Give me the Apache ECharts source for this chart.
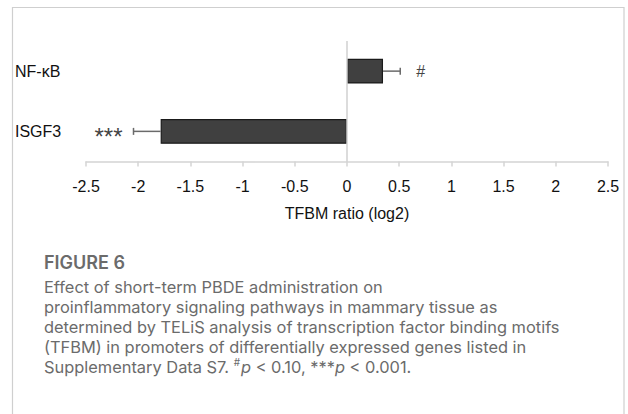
<!DOCTYPE html>
<html>
<head>
<meta charset="utf-8">
<script src="https://cdn.jsdelivr.net/npm/echarts@6/dist/echarts.min.js"></script>
<style>
html,body{margin:0;padding:0;background:#fff;}
#chart{width:628px;height:414px;}
</style>
</head>
<body>
<div id="chart"></div>
<script>
// ---- data ----
var categories = ["NF-\u03baB", "ISGF3"];
var ratioValues = [0.345, -1.785];
var errorValues = [0.165, 0.26];
var significance = ["#", "***"];
var xTicks = { min: -2.5, max: 2.5, interval: 0.5 };
var axisTitle = "TFBM ratio (log2)";
var figureLabel = "FIGURE 6";
var captionLines = [
  "Effect of short-term PBDE administration on",
  "proinflammatory signaling pathways in mammary tissue as",
  "determined by TELiS analysis of transcription factor binding motifs",
  "(TFBM) in promoters of differentially expressed genes listed in",
  "Supplementary Data S7. {sup|#}{it|p} < 0.10, ***{it|p} < 0.001."
];

// ---- chart ----
var chart = echarts.init(document.getElementById('chart'), null, { renderer: 'svg' });

var errData = categories.map(function (c, i) {
  return [i, ratioValues[i], errorValues[i], significance[i]];
});

var captionFont = 'Inter, "Open Sans", sans-serif';
var captionColor = '#6b6b6b';
var graphics = [
  {
    type: 'rect', silent: true, z: 0,
    shape: { x: 12.5, y: 7.5, width: 611.5, height: 430 },
    style: { fill: 'none', stroke: '#cfcfcf', lineWidth: 1.2 }
  },
  {
    type: 'text', left: 44, top: 253, silent: true,
    style: { text: figureLabel, font: '600 18px ' + captionFont, fill: captionColor }
  },
  {
    type: 'text', left: 44, top: 277, silent: true,
    style: {
      text: captionLines.join('\n'),
      font: '16.4px ' + captionFont,
      lineHeight: 20,
      fill: captionColor,
      rich: {
        sup: { fontSize: 10, lineHeight: 20, verticalAlign: 'top', padding: [0, 1, 6, 0], fill: captionColor, fontFamily: captionFont },
        it: { fontStyle: 'italic', fontSize: 16.4, lineHeight: 20, fill: captionColor, fontFamily: captionFont }
      }
    }
  }
];

var option = {
  backgroundColor: '#ffffff',
  animation: false,
  grid: { left: 86, right: 20, top: 41, bottom: 252.5 },
  xAxis: {
    type: 'value',
    min: xTicks.min, max: xTicks.max, interval: xTicks.interval,
    name: axisTitle,
    nameLocation: 'middle',
    nameGap: 44,
    nameTextStyle: { fontFamily: '"Liberation Sans", Arial, sans-serif', fontSize: 16, color: '#111' },
    axisLine: { show: true, lineStyle: { color: '#d4d4d4', width: 1.5 } },
    axisTick: { show: true, length: 5, lineStyle: { color: '#d4d4d4', width: 1.5 } },
    splitLine: { show: false },
    axisLabel: {
      margin: 17,
      fontFamily: '"Liberation Sans", Arial, sans-serif', fontSize: 16, color: '#111',
      formatter: function (v) { return String(v); }
    }
  },
  yAxis: {
    type: 'category',
    data: categories,
    inverse: true,
    axisLine: { show: false },
    axisTick: { show: false },
    axisLabel: {
      align: 'left', margin: 71,
      fontFamily: '"Liberation Sans", Arial, sans-serif', fontSize: 16, color: '#111'
    }
  },
  graphic: graphics,
  series: [
    {
      type: 'bar',
      data: ratioValues,
      barWidth: '41%',
      itemStyle: { color: '#404040', borderColor: '#1a1a1a', borderWidth: 1.2 },
      markLine: {
        silent: true, symbol: 'none', label: { show: false },
        lineStyle: { color: '#d0d0d0', width: 1.5, type: 'solid' },
        data: [{ xAxis: 0 }]
      },
      z: 3
    },
    {
      type: 'custom',
      data: errData,
      z: 4,
      renderItem: function (params, api) {
        var idx = api.value(0);
        var v = api.value(1);
        var e = api.value(2);
        var sig = significance[params.dataIndex];
        var dir = v >= 0 ? 1 : -1;
        var p0 = api.coord([v, idx]);
        var p1 = api.coord([v + dir * e, idx]);
        var cap = 3.5;
        var children = [
          { type: 'line', shape: { x1: p0[0], y1: p0[1], x2: p1[0], y2: p1[1] }, style: { stroke: '#6a6a6a', lineWidth: 1.5 } },
          { type: 'line', shape: { x1: p1[0], y1: p1[1] - cap, x2: p1[0], y2: p1[1] + cap }, style: { stroke: '#6a6a6a', lineWidth: 1.5 } },
          {
            type: 'text',
            style: {
              text: sig,
              x: p1[0] + dir * (dir > 0 ? 16 : 11),
              y: p1[1] + (dir > 0 ? 0 : 5),
              align: dir > 0 ? 'left' : 'right',
              verticalAlign: 'middle',
              font: (dir > 0 ? '16px' : '24px') + ' "Liberation Sans", Arial, sans-serif',
              fill: '#444'
            }
          }
        ];
        return { type: 'group', children: children };
      }
    }
  ]
};
chart.setOption(option);
</script>
</body>
</html>
